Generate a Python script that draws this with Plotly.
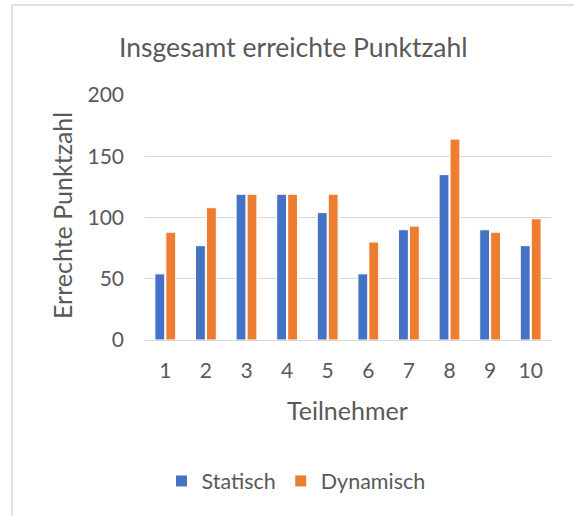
import plotly.graph_objects as go

categories = ["1", "2", "3", "4", "5", "6", "7", "8", "9", "10"]
statisch = [54, 77, 119, 119, 104, 54, 90, 135, 90, 77]
dynamisch = [88, 108, 119, 119, 119, 80, 93, 164, 88, 99]
y_ticks = [0, 50, 100, 150, 200]

FONT = "Lato"
TXT = "#595959"
GRID = "#d9d9d9"

W, H = 574, 516
L, R, T, B = 145, 23, 95, 176
pw, ph = W - L - R, H - T - B

def px(x):
    return (x - L) / pw

def py(y):
    return (H - B - y) / ph

fig = go.Figure()
fig.add_trace(go.Bar(x=categories, y=statisch, name="Statisch",
                     marker=dict(color="#4472C4", line=dict(color="white", width=1))))
fig.add_trace(go.Bar(x=categories, y=dynamisch, name="Dynamisch",
                     marker=dict(color="#ED7D31", line=dict(color="white", width=1))))

fig.update_layout(
    width=W, height=H, autosize=False,
    margin=dict(l=L, r=R, t=T, b=B, pad=0),
    paper_bgcolor="white", plot_bgcolor="white",
    font=dict(family=FONT, color=TXT, size=21),
    barmode="group", bargap=0.46, bargroupgap=0.1,
    showlegend=True,
    legend=dict(orientation="h", xanchor="center", yanchor="middle",
                x=px(296), y=py(481), font=dict(size=21.5, color=TXT),
                itemwidth=30, traceorder="normal"),
    xaxis=dict(type="category", showgrid=False, showline=True, linecolor=GRID,
               linewidth=1, ticks="", tickfont=dict(size=21, color=TXT),
               ticklabelstandoff=12),
    yaxis=dict(range=[0, 200], tickvals=y_ticks, showgrid=True, gridcolor=GRID,
               gridwidth=1, zeroline=False, showline=False, ticks="",
               tickfont=dict(size=21, color=TXT), ticklabelstandoff=20),
    annotations=[
        dict(text="Insgesamt erreichte Punktzahl", xref="paper", yref="paper",
             x=px(293), y=py(47), xanchor="center", yanchor="middle",
             showarrow=False, font=dict(size=26.5, color=TXT, family=FONT)),
        dict(text="Errechte Punktzahl", xref="paper", yref="paper",
             x=px(62), y=py(216), xanchor="center", yanchor="middle",
             textangle=-90, showarrow=False,
             font=dict(size=25, color=TXT, family=FONT)),
        dict(text="Teilnehmer", xref="paper", yref="paper",
             x=px(347), y=py(410), xanchor="center", yanchor="middle",
             showarrow=False, font=dict(size=25, color=TXT, family=FONT)),
    ],
    shapes=[
        dict(type="path", xref="paper", yref="paper",
             path=f"M {px(12)} {py(530)} L {px(12)} {py(5)} L {px(590)} {py(5)}",
             line=dict(color=GRID, width=1.5)),
    ],
)

fig.write_html("out.html",
               config={"displayModeBar": False},
               post_script="document.body.style.margin='0';document.body.style.padding='0';")
